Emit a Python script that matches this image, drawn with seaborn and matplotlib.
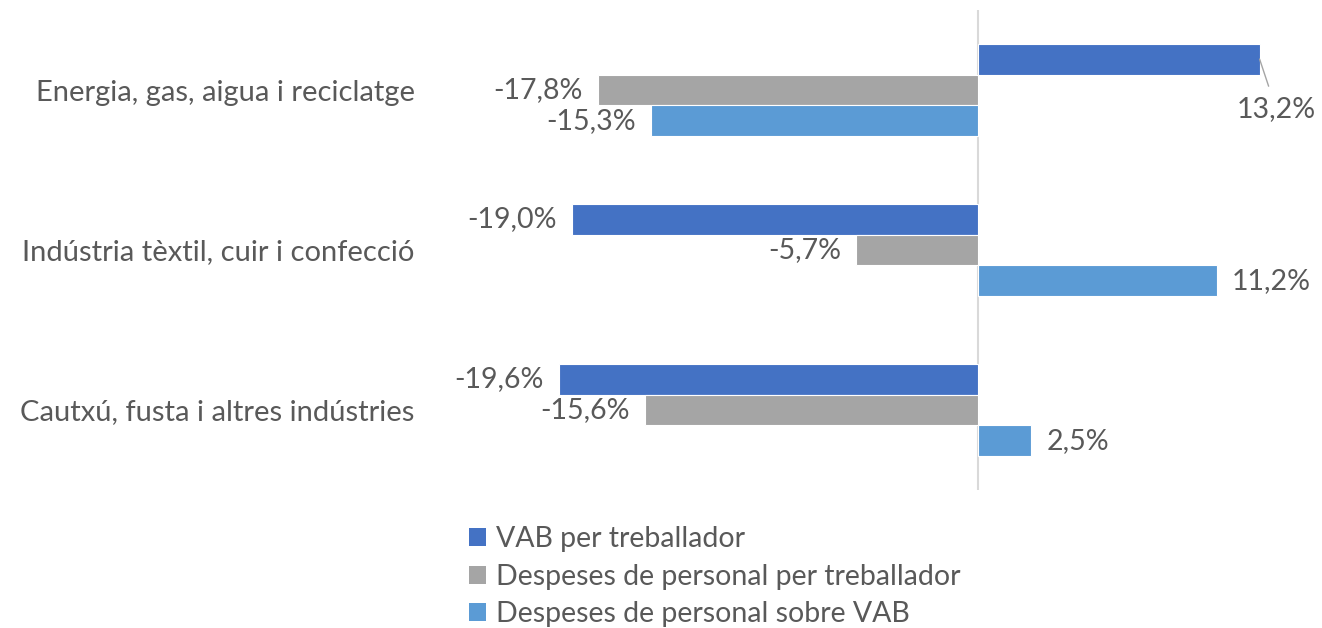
import matplotlib
matplotlib.use("Agg")
import matplotlib.pyplot as plt
import seaborn as sns
import pandas as pd
from matplotlib.patches import Patch

categories = ["Energia, gas, aigua i reciclatge",
              "Indústria tèxtil, cuir i confecció",
              "Cautxú, fusta i altres indústries"]
series = ["VAB per treballador",
          "Despeses de personal per treballador",
          "Despeses de personal sobre VAB"]
vab = [13.2, -19.0, -19.6]
desp_treb = [-17.8, -5.7, -15.6]
desp_vab = [-15.3, 11.2, 2.5]
colors = ["#4472C4", "#A5A5A5", "#5B9BD5"]
text_color = "#595959"

rows = []
for s, vals in zip(series, [vab, desp_treb, desp_vab]):
    for c, v in zip(categories, vals):
        rows.append({"cat": c, "serie": s, "val": v})
df = pd.DataFrame(rows)

sns.set_theme(style="white")
plt.rcParams["font.family"] = ["Lato", "DejaVu Sans"]
FS = 20.5

fig = plt.figure(figsize=(13.22, 6.28), dpi=100)
ax = fig.add_axes([444 / 1322, 138 / 628, 876 / 1322, 480 / 628])

sns.barplot(data=df, y="cat", x="val", hue="serie", order=categories,
            hue_order=series, palette=colors, saturation=1, orient="h", width=0.58,
            edgecolor="white", linewidth=0.8, ax=ax, legend=False)

ax.set_xlim(-25, 16.03)
ax.set_ylim(2.5, -0.5)
ax.axvline(0, color="#d9d9d9", lw=1.5, zorder=0)
for sp in ax.spines.values():
    sp.set_visible(False)
ax.set_xticks([])
ax.set_xlabel("")
ax.set_ylabel("")
ax.tick_params(axis="y", length=0, pad=21, labelsize=21, labelcolor=text_color)

def fmt(v):
    return f"{v:.1f}%".replace(".", ",")

for si, cont in enumerate(ax.containers):
    for ci, bar in enumerate(cont):
        v = bar.get_width()
        yc = bar.get_y() + bar.get_height() / 2
        if si == 0 and ci == 0:
            ax.annotate(fmt(v), xy=(v, yc), xytext=(12, -36), textcoords="offset points",
                        ha="center", va="center", fontsize=FS, color=text_color,
                        arrowprops=dict(arrowstyle="-", color="#a5a5a5", lw=1,
                                        shrinkA=5, shrinkB=0))
            continue
        if v < 0:
            ax.annotate(fmt(v), xy=(v, yc), xytext=(-11, 0), textcoords="offset points",
                        ha="right", va="center", fontsize=FS, color=text_color)
        else:
            ax.annotate(fmt(v), xy=(v, yc), xytext=(11, 0), textcoords="offset points",
                        ha="left", va="center", fontsize=FS, color=text_color)

handles = [Patch(facecolor=c, edgecolor="none") for c in colors]
fig.legend(handles, series, loc="upper left", bbox_to_anchor=(455 / 1322, 1 - 512 / 628),
           frameon=False, fontsize=FS, labelcolor=text_color, handlelength=0.6,
           handleheight=0.6, handletextpad=0.35, labelspacing=0.4, borderpad=0)

fig.savefig("out.png", dpi=100)
